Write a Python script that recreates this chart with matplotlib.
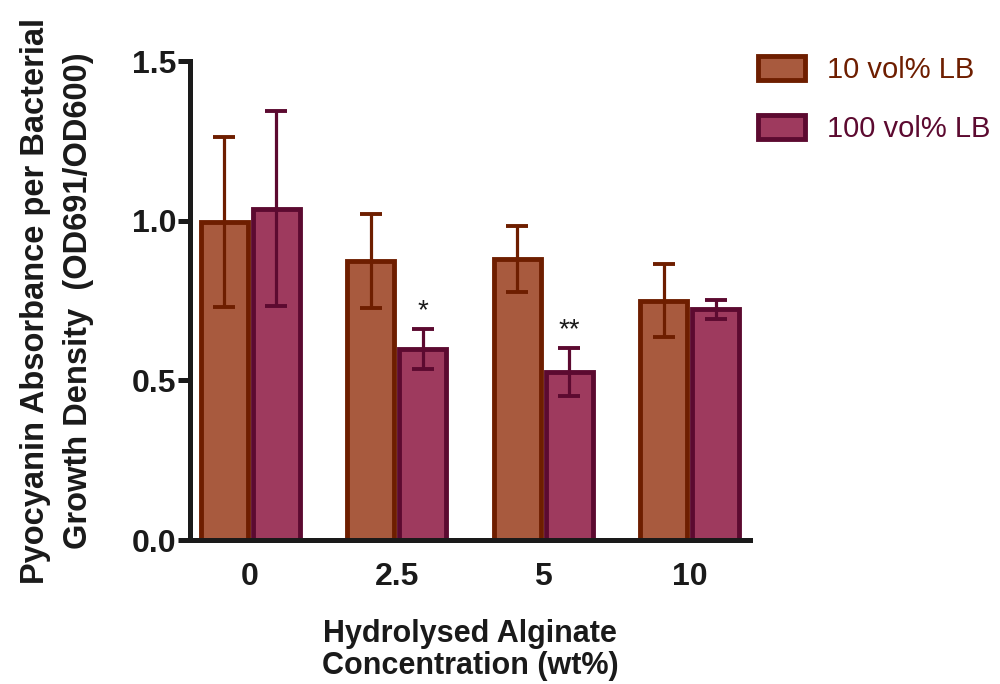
import numpy as np
import matplotlib
matplotlib.use('Agg')
from matplotlib import pyplot as plt

# pyocyanin per growth density, mean and error for each medium
conc = ['0', '2.5', '5', '10']
lb10_mean = [0.996, 0.874, 0.880, 0.750]
lb10_err = [0.265, 0.147, 0.103, 0.113]
lb100_mean = [1.037, 0.598, 0.526, 0.723]
lb100_err = [0.305, 0.064, 0.076, 0.030]
sig_marks = ['', '*', '**', '']

fill10, edge10 = '#A85A3E', '#6E1E00'
fill100, edge100 = '#9E3A5E', '#5C0A30'

plt.rcParams['font.family'] = ['Liberation Sans', 'DejaVu Sans']

fig = plt.figure(figsize=(10, 6.84), dpi=100)
ax = fig.add_axes([0.19, 0.2105, 0.56, 0.7003])

x = np.arange(len(conc))
w = 0.32
off = 0.177

ax.bar(x - off, lb10_mean, w, color=fill10, edgecolor=edge10, linewidth=3.5,
       label='10 vol% LB', zorder=2)
ax.bar(x + off, lb100_mean, w, color=fill100, edgecolor=edge100, linewidth=3.5,
       label='100 vol% LB', zorder=2)
ax.errorbar(x - off, lb10_mean, yerr=lb10_err, fmt='none', ecolor=edge10,
            elinewidth=2.3, capsize=8, capthick=2.8, zorder=3)
ax.errorbar(x + off, lb100_mean, yerr=lb100_err, fmt='none', ecolor=edge100,
            elinewidth=2.3, capsize=8, capthick=2.8, zorder=3)

for xi, m, e, s in zip(x, lb100_mean, lb100_err, sig_marks):
    if s:
        ax.text(xi + off, m + e + 0.015, s, ha='center', va='bottom',
                fontsize=20, color='#1a1a1a')

ax.set_xlim(-0.41, 3.41)
ax.set_ylim(0, 1.5)
ax.set_yticks([0, 0.5, 1.0, 1.5])
ax.set_yticklabels(['0.0', '0.5', '1.0', '1.5'])
ax.set_xticks(x)
ax.set_xticklabels(conc)

for side in ['top', 'right']:
    ax.spines[side].set_visible(False)
for side in ['left', 'bottom']:
    ax.spines[side].set_linewidth(3.6)
    ax.spines[side].set_color('#1a1a1a')

ax.tick_params(axis='y', direction='out', length=9, width=3.6, color='#1a1a1a',
               labelsize=23, pad=1)
ax.tick_params(axis='x', length=0, labelsize=23, pad=16)
for lab in ax.get_xticklabels() + ax.get_yticklabels():
    lab.set_fontweight('bold')
    lab.set_color('#1a1a1a')

ax.set_xlabel('Hydrolysed Alginate\nConcentration (wt%)', fontsize=22,
              fontweight='bold', color='#1a1a1a', labelpad=19, linespacing=1.1)
ax.set_ylabel('Pyocyanin Absorbance per Bacterial\nGrowth Density  (OD691/OD600)',
              fontsize=23.5, fontweight='bold', color='#1a1a1a', labelpad=27,
              linespacing=1.5)

leg = ax.legend(loc='upper left', bbox_to_anchor=(0.968, 1.065), frameon=False,
                fontsize=21, handlelength=1.6, handleheight=0.9,
                labelspacing=1.05, handletextpad=0.75)
for txt, c in zip(leg.get_texts(), [edge10, edge100]):
    txt.set_color(c)

plt.savefig('out.png', dpi=100)
